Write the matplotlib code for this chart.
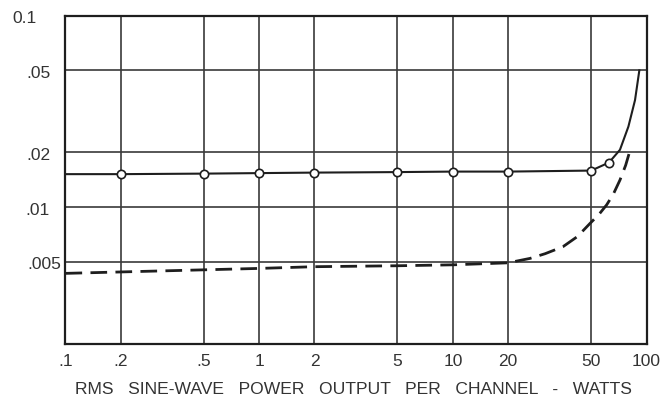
import numpy as np
import matplotlib
matplotlib.use("Agg")
import matplotlib.pyplot as plt
from matplotlib.ticker import FixedLocator, NullLocator
from matplotlib.transforms import offset_copy

plt.rcParams["font.family"] = ["Liberation Sans", "DejaVu Sans"]

# (watts, distortion)
solid_x = [0.1, 0.2, 0.5, 1, 2, 5, 10, 20, 50, 62.5, 71.7, 79.7, 86.6, 91.4]
solid_y = [0.0152, 0.0152, 0.0153, 0.0154, 0.0155, 0.0156, 0.0157, 0.0157,
           0.0159, 0.0176, 0.0206, 0.0267, 0.0359, 0.050]
marker_x = [0.2, 0.5, 1, 2, 5, 10, 20, 50, 62.5]
marker_y = [0.0152, 0.0153, 0.0154, 0.0155, 0.0156, 0.0157, 0.0157, 0.0159, 0.0176]

dash_x = [0.1, 1, 2, 5, 10, 20, 25.5, 30.1, 36.6, 43.0, 49.4, 55.0, 60.7, 66.0,
          71.7, 77.0, 82.3]
dash_y = [0.0044, 0.00465, 0.00474, 0.00479, 0.00484, 0.00495, 0.00523,
          0.00555, 0.00606, 0.0069, 0.00815, 0.0091, 0.0103, 0.0118,
          0.0141, 0.0170, 0.0212]

xticks = [0.1, 0.2, 0.5, 1, 2, 5, 10, 20, 50, 100]
xlabels = [".1", ".2", ".5", "1", "2", "5", "10", "20", "50", "100"]
yticks = [0.005, 0.01, 0.02, 0.05, 0.1]
ylabels = [".005", ".01", ".02", ".05", "0.1"]
# the printed labels are not aligned evenly; right edge in axes fraction
ylabel_right = [-0.008, -0.028, -0.026, -0.026, -0.049]

# the printed paper spaces 1-2-5 as 1 : 1.5 : 1 inside each decade
vals = []
units = []
for d in range(-5, 4):
    for k, u in ((1, 0), (2, 1), (5, 2.5)):
        vals.append(k * 10.0 ** d)
        units.append((d + 5) * 3.5 + u)
log_knots = np.log10(vals)
unit_knots = np.array(units)


def fwd(v):
    v = np.asarray(v, dtype=float)
    with np.errstate(divide="ignore", invalid="ignore"):
        lv = np.log10(np.where(v > 0, v, 1e-12))
    return np.interp(lv, log_knots, unit_knots)


def inv(u):
    return 10.0 ** np.interp(np.asarray(u, dtype=float), unit_knots, log_knots)


fig = plt.figure(figsize=(6.62, 3.98), dpi=100)
ax = fig.add_axes([0.0989, 0.1357, 0.8777, 0.8249])
ax.set_xscale("function", functions=(fwd, inv))
ax.set_yscale("function", functions=(fwd, inv))
ax.set_xlim(0.1, 100)
ax.set_ylim(0.002, 0.1)

ink = "#1e1e1e"
for x in xticks[1:-1]:
    ax.axvline(x, color="#3a3a3a", lw=1.2, zorder=1)
for y in yticks[:-1]:
    ax.axhline(y, color="#3a3a3a", lw=1.2, zorder=1)

ax.plot(solid_x, solid_y, color=ink, lw=1.5, zorder=3)
ax.plot(marker_x, marker_y, ls="none", marker="o", ms=6, mfc="white",
        mec=ink, mew=1.2, zorder=4)
ax.plot(dash_x, dash_y, color=ink, lw=2.0, ls=(0, (6, 3)), zorder=3)

ax.xaxis.set_major_locator(FixedLocator(xticks))
ax.xaxis.set_minor_locator(NullLocator())
ax.yaxis.set_major_locator(FixedLocator(yticks))
ax.yaxis.set_minor_locator(NullLocator())
ax.set_xticklabels(xlabels)
ax.set_yticklabels([])
ax.tick_params(length=0, labelsize=12.5, labelcolor="#333333", pad=7)

ytrans = offset_copy(ax.get_yaxis_transform(), fig=fig, y=-3, units="dots")
for y, lab, xr in zip(yticks, ylabels, ylabel_right):
    ax.text(xr, y, lab, transform=ytrans, ha="right", va="center",
            fontsize=12.5, color="#333333", clip_on=False)

for s in ax.spines.values():
    s.set_color(ink)
    s.set_linewidth(1.6)

ax.set_xlabel("RMS   SINE-WAVE   POWER   OUTPUT   PER   CHANNEL   -   WATTS",
              fontsize=12.6, color="#333333", labelpad=10)
ax.xaxis.set_label_coords(0.495, -0.115)

fig.savefig("out.png", dpi=100)
